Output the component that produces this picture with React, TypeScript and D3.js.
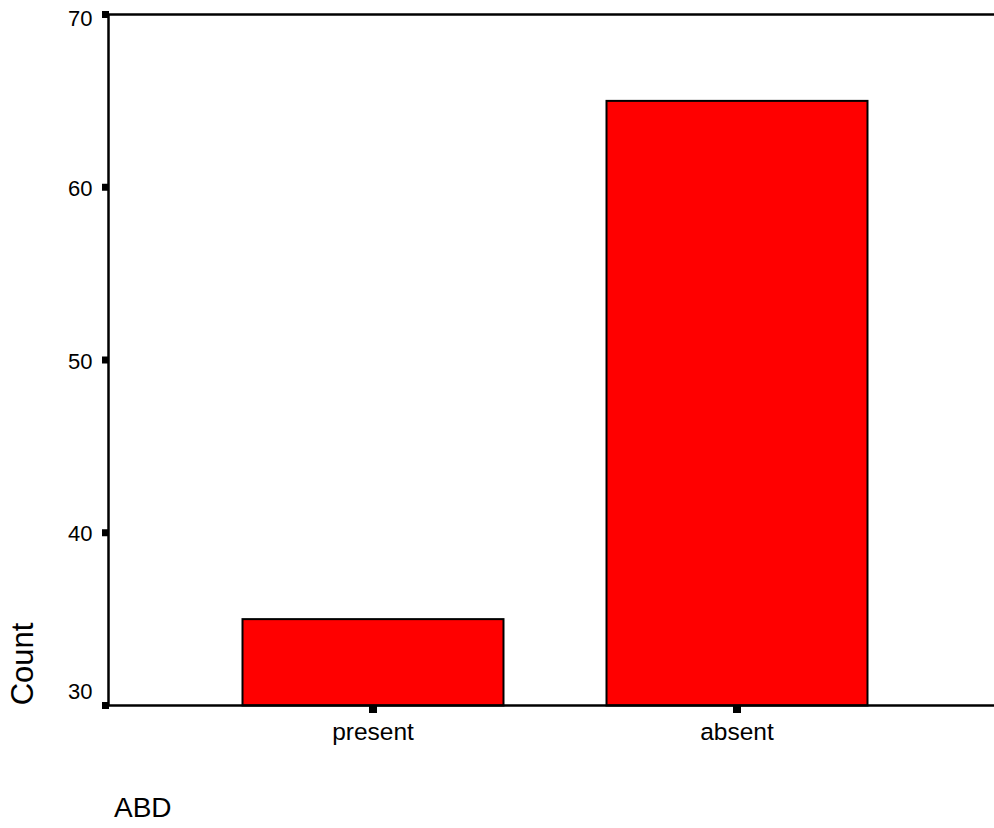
import React from "react";
import * as d3 from "d3";

const categories = ["present", "absent"];
const counts = [35, 65];
const yTicks = [30, 40, 50, 60, 70];
const yTitle = "Count";
const xTitle = "ABD";

export default function App() {
  const W = 994, H = 828;
  const left = 108.5, right = 994, top = 14.5, bottom = 705.5;
  const y = d3.scaleLinear().domain([30, 70]).range([bottom, top]);
  const x = d3.scaleBand<string>().domain(categories).range([191, 919]).paddingInner(0.283).paddingOuter(0.1415);
  const font = "Arial, 'Liberation Sans', sans-serif";
  return (
    <svg width={W} height={H} style={{ position: "absolute", left: 0, top: 0, background: "#fff" }} fontFamily={font}>
      {categories.map((c, i) => (
        <rect key={c} x={x(c)!} y={y(counts[i])} width={x.bandwidth()} height={bottom - y(counts[i])}
          fill="#ff0000" stroke="#000" strokeWidth={2} />
      ))}
      <line x1={left} x2={right} y1={top} y2={top} stroke="#000" strokeWidth={2.5} />
      <line x1={left} x2={right} y1={bottom} y2={bottom} stroke="#000" strokeWidth={2.5} />
      <line x1={left} x2={left} y1={top} y2={bottom} stroke="#000" strokeWidth={2.5} />
      {yTicks.map((t, i) => {
        const dy = i === 0 ? -7 : i === yTicks.length - 1 ? 11.5 : 8.5;
        return (
          <g key={t}>
            <rect x={left - 6.5} y={y(t) - 3.5} width={7} height={7} fill="#000" />
            <text x={92.5} y={y(t) + dy} textAnchor="end" fontSize={22} fill="#000">{t}</text>
          </g>
        );
      })}
      {categories.map((c) => {
        const cx = x(c)! + x.bandwidth() / 2;
        return (
          <g key={c}>
            <rect x={cx - 4} y={bottom} width={8} height={7.5} fill="#000" />
            <text x={cx} y={740} textAnchor="middle" fontSize={24.5} fill="#000">{c}</text>
          </g>
        );
      })}
      <text transform="translate(33,664) rotate(-90)" textAnchor="middle" fontSize={31} fill="#000">{yTitle}</text>
      <text x={114} y={817} fontSize={28} fill="#000">{xTitle}</text>
    </svg>
  );
}
